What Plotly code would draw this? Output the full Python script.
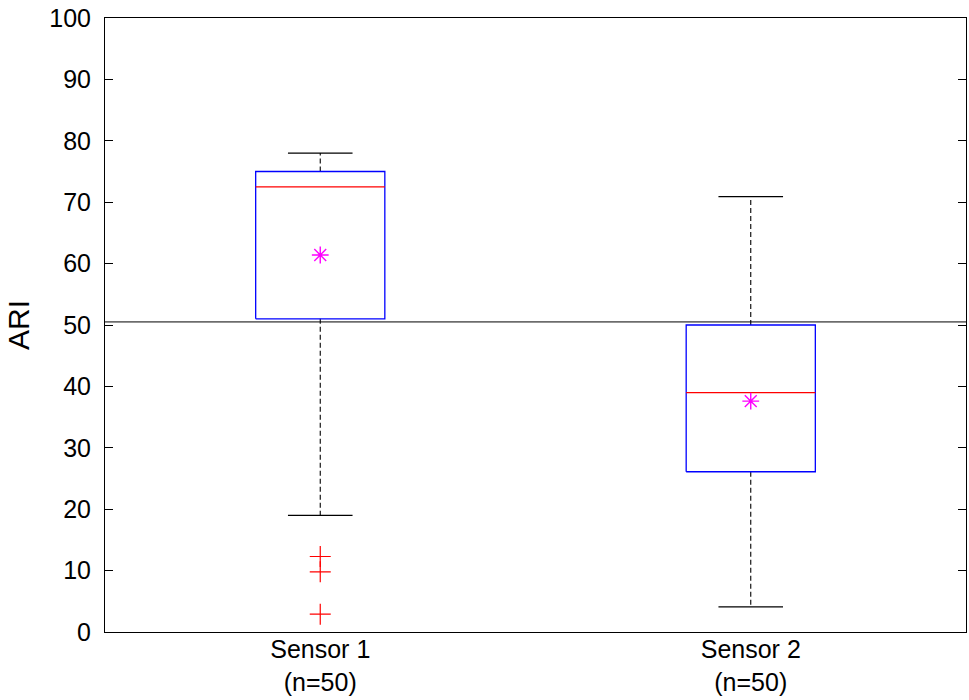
import plotly.graph_objects as go

# ---- data ----
category_names = ["Sensor 1", "Sensor 2"]
n_counts = [50, 50]
q1_values = [51.0, 26.1]
median_values = [72.5, 39.0]
q3_values = [75.0, 50.0]
whisker_low = [19.0, 4.1]
whisker_high = [78.0, 70.9]
mean_values = [61.4, 37.6]
outlier_values = [[12.3, 9.8, 2.9], []]
reference_level = 50.5
y_ticks = [0, 10, 20, 30, 40, 50, 60, 70, 80, 90, 100]

# ---- style ----
BOX_HALF = 0.15
CAP_HALF = 0.075
FONT = "Liberation Sans, Arial, sans-serif"

positions = [i + 1 for i in range(len(category_names))]
tick_text = [f"{name}<br>(n={n})" for name, n in zip(category_names, n_counts)]

fig = go.Figure()

# whiskers (dashed)
wx, wy = [], []
for p, lo, q1, q3, hi in zip(positions, whisker_low, q1_values, q3_values, whisker_high):
    wx += [p, p, None, p, p, None]
    wy += [q3, hi, None, q1, lo, None]
fig.add_trace(go.Scatter(x=wx, y=wy, mode="lines",
                         line=dict(color="black", width=1.1, dash="5px,3px"),
                         hoverinfo="skip", showlegend=False))

# whisker caps
cx, cy = [], []
for p, lo, hi in zip(positions, whisker_low, whisker_high):
    cx += [p - CAP_HALF, p + CAP_HALF, None, p - CAP_HALF, p + CAP_HALF, None]
    cy += [hi, hi, None, lo, lo, None]
fig.add_trace(go.Scatter(x=cx, y=cy, mode="lines",
                         line=dict(color="black", width=1.1),
                         hoverinfo="skip", showlegend=False))

# boxes
bx, by = [], []
for p, q1, q3 in zip(positions, q1_values, q3_values):
    bx += [p - BOX_HALF, p + BOX_HALF, p + BOX_HALF, p - BOX_HALF, p - BOX_HALF, None]
    by += [q1, q1, q3, q3, q1, None]
fig.add_trace(go.Scatter(x=bx, y=by, mode="lines",
                         line=dict(color="#0000FF", width=1.3),
                         hoverinfo="skip", showlegend=False))

# medians
mx, my = [], []
for p, m in zip(positions, median_values):
    mx += [p - BOX_HALF, p + BOX_HALF, None]
    my += [m, m, None]
fig.add_trace(go.Scatter(x=mx, y=my, mode="lines",
                         line=dict(color="#FF0000", width=1.3),
                         hoverinfo="skip", showlegend=False))

# outliers
ox, oy = [], []
for p, outs in zip(positions, outlier_values):
    for v in outs:
        ox.append(p)
        oy.append(v)
fig.add_trace(go.Scatter(x=ox, y=oy, mode="markers",
                         marker=dict(symbol="cross-thin-open", size=15, color="#FF0000",
                                     line=dict(color="#FF0000", width=1.2)),
                         hoverinfo="skip", showlegend=False))

# means
fig.add_trace(go.Scatter(x=positions, y=mean_values, mode="markers",
                         marker=dict(symbol="asterisk-open", size=14, color="#FF00FF",
                                     line=dict(color="#FF00FF", width=1.4)),
                         hoverinfo="skip", showlegend=False))

# reference line
fig.add_shape(type="line", xref="paper", yref="y", x0=0, x1=1,
              y0=reference_level, y1=reference_level,
              line=dict(color="black", width=1))

fig.update_layout(
    width=969, height=700, autosize=False,
    margin=dict(l=105, r=3, t=18, b=68),
    paper_bgcolor="white", plot_bgcolor="white",
    font=dict(family=FONT, size=25, color="black"),
    showlegend=False,
)
fig.update_xaxes(range=[0.5, 2.5], tickvals=positions, ticktext=tick_text,
                 showgrid=False, zeroline=False, showline=True, linecolor="black",
                 linewidth=1, mirror=True, ticks="", ticklabelstandoff=-5,
                 automargin=False)
fig.update_yaxes(range=[0, 100], tickvals=y_ticks, showgrid=False, zeroline=False,
                 showline=True, linecolor="black", linewidth=1, mirror="ticks",
                 ticks="inside", ticklen=8, tickcolor="black", tickwidth=1,
                 ticklabelstandoff=8, automargin=False,
                 title=dict(text="ARI", standoff=10))

fig.write_html("out.html")
